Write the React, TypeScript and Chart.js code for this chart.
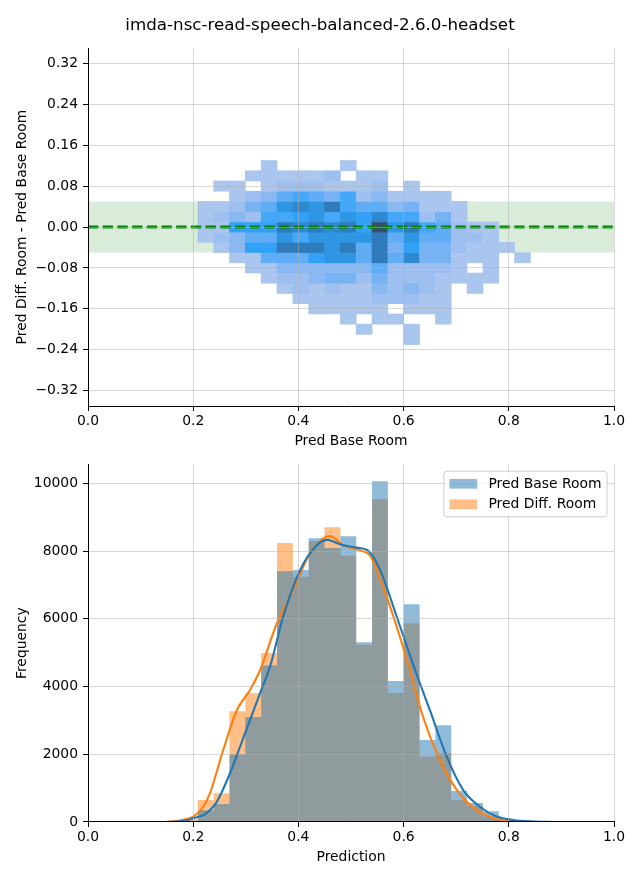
import React, { useEffect, useRef } from 'react';
import { Chart, registerables } from 'chart.js';

Chart.register(...registerables);

// ---------------- data ----------------
const FIG_TITLE = 'imda-nsc-read-speech-balanced-2.6.0-headset';

// shared histogram bin edges (Pred value)
const binEdges = [
  0.1486, 0.1787, 0.2088, 0.2389, 0.269, 0.2991, 0.3292, 0.3594, 0.3895, 0.4196,
  0.4497, 0.4798, 0.5099, 0.54, 0.5701, 0.6002, 0.6304, 0.6605, 0.6906, 0.7207,
  0.7508, 0.7809, 0.811, 0.8411, 0.8712, 0.9014,
];

// bottom panel: counts per bin
const baseCounts = [5, 40, 350, 530, 2000, 3100, 4630, 7400, 7440, 8380, 8090, 8440, 5310, 10060, 4160, 6430, 2420, 2860, 915, 560, 320, 80, 30, 10, 5];
const diffCounts = [10, 90, 650, 850, 3270, 3810, 4990, 8240, 7240, 8300, 8700, 7860, 5230, 9530, 3810, 5870, 1930, 2030, 650, 470, 160, 30, 5, 0, 0];

// KDE curves (in count units)
const kdeBaseX = [0.15, 0.17, 0.19, 0.2, 0.22, 0.232, 0.245, 0.27, 0.289, 0.308, 0.327, 0.346, 0.371, 0.403, 0.435, 0.455, 0.479, 0.511, 0.532, 0.555, 0.587, 0.622, 0.65, 0.682, 0.713, 0.745, 0.777, 0.808, 0.85, 0.885];
const kdeBaseY = [0, 15, 60, 110, 210, 354, 600, 1440, 2220, 3010, 3800, 4580, 6060, 7430, 8170, 8330, 8200, 8100, 8020, 7450, 6060, 4480, 3300, 1930, 950, 450, 160, 60, 15, 0];
const kdeDiffX = [0.15, 0.18, 0.2, 0.218, 0.232, 0.257, 0.283, 0.308, 0.327, 0.359, 0.39, 0.422, 0.46, 0.485, 0.517, 0.536, 0.555, 0.587, 0.612, 0.637, 0.669, 0.701, 0.739, 0.777, 0.796, 0.83];
const kdeDiffY = [5, 60, 160, 420, 850, 2120, 3300, 3900, 4480, 5860, 6840, 7930, 8440, 8170, 8020, 7870, 7200, 5760, 4480, 3100, 1830, 950, 350, 90, 25, 0];

// top panel: 2D histogram, rows = Pred Diff - Pred Base bin centres, columns start at binEdges[heatFirstBin]
const heatFirstBin = 2;
const rowHalfHeight = 0.01;
const heatRows = [0.12, 0.1, 0.08, 0.06, 0.04, 0.02, 0, -0.02, -0.04, -0.06, -0.08, -0.1, -0.12, -0.14, -0.16, -0.18, -0.2, -0.22];
const heatLevels = [
  [0, 0, 0, 0, 1, 0, 0, 0, 0, 1, 0, 0, 0, 0, 0, 0, 0, 0, 0, 0, 0],
  [0, 0, 0, 1, 1, 1, 1, 1, 2, 0, 1, 1, 0, 0, 0, 0, 0, 0, 0, 0, 0],
  [0, 1, 1, 0, 1, 2, 2, 2, 1, 1, 1, 2, 0, 1, 0, 0, 0, 0, 0, 0, 0],
  [0, 0, 1, 2, 3, 5, 6, 5, 4, 6, 2, 3, 1, 1, 1, 1, 0, 0, 0, 0, 0],
  [1, 1, 2, 4, 5, 8, 9, 8, 10, 6, 5, 5, 3, 4, 1, 1, 1, 0, 0, 0, 0],
  [1, 2, 3, 2, 6, 6, 7, 8, 6, 8, 7, 9, 6, 6, 2, 4, 1, 0, 0, 0, 0],
  [1, 1, 7, 7, 7, 10, 9, 10, 9, 10, 7, 11, 8, 10, 6, 5, 2, 1, 1, 0, 0],
  [1, 2, 3, 5, 5, 8, 6, 8, 8, 8, 8, 10, 5, 8, 5, 5, 2, 2, 1, 0, 0],
  [0, 1, 3, 7, 7, 10, 10, 10, 8, 10, 5, 10, 4, 7, 4, 4, 2, 1, 1, 1, 0],
  [0, 0, 1, 1, 5, 5, 5, 7, 8, 8, 5, 10, 5, 9, 4, 4, 1, 1, 1, 0, 1],
  [0, 0, 0, 1, 1, 3, 3, 3, 3, 3, 3, 5, 2, 2, 2, 2, 1, 0, 1, 0, 0],
  [0, 0, 0, 0, 1, 2, 2, 3, 4, 4, 2, 4, 2, 2, 2, 1, 1, 1, 1, 0, 0],
  [0, 0, 0, 0, 0, 1, 2, 1, 2, 1, 1, 3, 2, 3, 2, 1, 0, 1, 0, 0, 0],
  [0, 0, 0, 0, 0, 0, 1, 1, 1, 1, 1, 2, 2, 2, 1, 1, 0, 0, 0, 0, 0],
  [0, 0, 0, 0, 0, 0, 0, 1, 1, 1, 1, 1, 0, 1, 1, 1, 0, 0, 0, 0, 0],
  [0, 0, 0, 0, 0, 0, 0, 0, 0, 1, 0, 1, 1, 0, 0, 1, 0, 0, 0, 0, 0],
  [0, 0, 0, 0, 0, 0, 0, 0, 0, 0, 1, 0, 0, 1, 0, 0, 0, 0, 0, 0, 0],
  [0, 0, 0, 0, 0, 0, 0, 0, 0, 0, 0, 0, 0, 1, 0, 0, 0, 0, 0, 0, 0],
];

const bandLow = -0.05;
const bandHigh = 0.05;

const topYTicks = [-0.32, -0.24, -0.16, -0.08, 0, 0.08, 0.16, 0.24, 0.32];
const xTicks = [0, 0.2, 0.4, 0.6, 0.8, 1.0];
const botYTicks = [0, 2000, 4000, 6000, 8000, 10000];

// ---------------- styles ----------------
const heatPalette = ['#aac6ee', '#9dc0f0', '#8ab8f1', '#77b2f3', '#60acf5', '#45a7f8', '#33a2f6', '#2e96e2', '#2e89d0', '#2f7bbb', '#3c4e6e'];
const FONT_FAMILY = '"DejaVu Sans", sans-serif';
const FS = 13.9;
const gridOpts = { color: 'rgba(176,176,176,0.5)', z: 1, tickLength: 5, tickColor: '#000', tickWidth: 1, lineWidth: 1, offset: false };
const borderOpts = { display: true, color: '#000', width: 1, z: 2 };

const figTitlePlugin = {
  id: 'figTitle',
  afterDraw(chart: any) {
    const ctx = chart.ctx;
    ctx.save();
    ctx.font = `16.7px ${FONT_FAMILY}`;
    ctx.fillStyle = '#000';
    ctx.textAlign = 'center';
    ctx.textBaseline = 'middle';
    ctx.fillText(FIG_TITLE, chart.width / 2, 26);
    ctx.restore();
  },
};

const boxLegendPlugin = {
  id: 'boxLegend',
  afterDraw(chart: any) {
    const items = chart.data.datasets
      .filter((d: any) => d.fill === 'origin')
      .map((d: any) => ({ label: d.label, color: d.backgroundColor }));
    const ctx = chart.ctx;
    const area = chart.chartArea;
    ctx.save();
    ctx.font = `${FS}px ${FONT_FAMILY}`;
    const pad = 0.4 * FS;
    const handleW = 2 * FS;
    const handleH = 0.7 * FS;
    const gap = 0.8 * FS;
    const rowH = 20.5;
    const textW = Math.max(...items.map((i: any) => ctx.measureText(i.label).width));
    const w = pad + handleW + gap + textW + pad;
    const h = 2 * pad + (items.length - 1) * rowH + FS;
    const right = area.right - 0.5 * FS;
    const top = area.top + 0.5 * FS;
    const left = right - w;
    ctx.beginPath();
    ctx.roundRect(left, top, w, h, 3);
    ctx.fillStyle = 'rgba(255,255,255,0.8)';
    ctx.fill();
    ctx.strokeStyle = '#cccccc';
    ctx.lineWidth = 1;
    ctx.stroke();
    items.forEach((it: any, i: number) => {
      const cy = top + pad + FS / 2 + i * rowH;
      ctx.fillStyle = it.color;
      ctx.fillRect(left + pad, cy - handleH / 2, handleW, handleH);
      ctx.fillStyle = '#000';
      ctx.textAlign = 'left';
      ctx.textBaseline = 'middle';
      ctx.fillText(it.label, left + pad + handleW + gap, cy + 0.5);
    });
    ctx.restore();
  },
};

const fmtMinus = (s: string) => s.replace('-', '\u2212');

function topConfig(): any {
  const heatDatasets = heatRows.map((yc, r) => {
    const pts: any[] = [];
    const cols: string[] = [];
    heatLevels[r].forEach((lv, c) => {
      if (lv > 0) {
        const x0 = binEdges[c + heatFirstBin];
        const x1 = binEdges[c + heatFirstBin + 1];
        pts.push({ x: (x0 + x1) / 2, y: [yc - rowHalfHeight, yc + rowHalfHeight] });
        cols.push(heatPalette[lv - 1]);
      }
    });
    return {
      type: 'bar',
      label: `row ${yc}`,
      data: pts,
      backgroundColor: cols,
      borderWidth: 0,
      grouped: false,
      barPercentage: 1,
      categoryPercentage: 1,
      order: 10,
    };
  });
  return {
    type: 'bar',
    data: {
      datasets: [
        {
          type: 'line',
          label: 'band',
          data: [{ x: 0, y: bandHigh }, { x: 1, y: bandHigh }],
          borderWidth: 0,
          pointRadius: 0,
          fill: { value: bandLow },
          backgroundColor: 'rgba(0,128,0,0.15)',
          order: 100,
        },
        ...heatDatasets,
        {
          type: 'line',
          label: 'zero',
          data: [{ x: 0, y: 0 }, { x: 1, y: 0 }],
          borderColor: '#008000',
          borderWidth: 2.8,
          borderDash: [10.3, 4.4],
          pointRadius: 0,
          fill: false,
          order: 0,
        },
      ],
    },
    options: {
      responsive: false,
      animation: false,
      devicePixelRatio: 1,
      layout: { padding: { top: 48, right: 26, left: 0, bottom: 0 } },
      plugins: { legend: { display: false }, tooltip: { enabled: false }, title: { display: false } },
      scales: {
        x: {
          type: 'linear',
          min: 0,
          max: 1,
          offset: false,
          afterBuildTicks: (s: any) => { s.ticks = xTicks.map((value) => ({ value })); },
          afterFit: (s: any) => { s.height = 49; },
          ticks: { color: '#000', font: { family: FONT_FAMILY, size: FS }, padding: 2, callback: (v: any) => Number(v).toFixed(1) },
          grid: gridOpts,
          border: borderOpts,
          title: { display: true, text: 'Pred Base Room', color: '#000', font: { family: FONT_FAMILY, size: FS }, padding: { top: 0, bottom: 5.7 } },
        },
        y: {
          type: 'linear',
          min: -0.35,
          max: 0.35,
          afterBuildTicks: (s: any) => { s.ticks = topYTicks.map((value) => ({ value })); },
          afterFit: (s: any) => { s.width = 88; },
          ticks: { color: '#000', font: { family: FONT_FAMILY, size: FS }, padding: 5, callback: (v: any) => fmtMinus(Number(v).toFixed(2)) },
          grid: gridOpts,
          border: borderOpts,
          title: { display: true, text: 'Pred Diff. Room - Pred Base Room', color: '#000', font: { family: FONT_FAMILY, size: FS }, padding: { top: 13.7, bottom: 0 } },
        },
      },
    },
    plugins: [figTitlePlugin],
  };
}

// histogram outline as a stepped polygon: one point per left edge, closed at the last right edge
function histPoints(counts: number[]) {
  const pts = counts.map((y, i) => ({ x: binEdges[i], y }));
  pts.push({ x: binEdges[counts.length], y: 0 });
  return pts;
}

function botConfig(): any {
  return {
    type: 'line',
    data: {
      datasets: [
        {
          label: 'Pred Base Room KDE',
          data: kdeBaseX.map((x, i) => ({ x, y: kdeBaseY[i] })),
          borderColor: '#1f77b4',
          borderWidth: 2.1,
          pointRadius: 0,
          cubicInterpolationMode: 'monotone',
          fill: false,
          order: 1,
        },
        {
          label: 'Pred Diff. Room KDE',
          data: kdeDiffX.map((x, i) => ({ x, y: kdeDiffY[i] })),
          borderColor: '#ff7f0e',
          borderWidth: 2.1,
          pointRadius: 0,
          cubicInterpolationMode: 'monotone',
          fill: false,
          order: 2,
        },
        {
          label: 'Pred Base Room',
          data: histPoints(baseCounts),
          stepped: 'before',
          backgroundColor: 'rgba(31,119,180,0.5)',
          borderColor: 'rgba(0,0,0,0)',
          borderWidth: 0,
          pointRadius: 0,
          fill: 'origin',
          order: 3,
        },
        {
          label: 'Pred Diff. Room',
          data: histPoints(diffCounts),
          stepped: 'before',
          backgroundColor: 'rgba(255,127,14,0.5)',
          borderColor: 'rgba(0,0,0,0)',
          borderWidth: 0,
          pointRadius: 0,
          fill: 'origin',
          order: 4,
        },
      ],
    },
    options: {
      responsive: false,
      animation: false,
      devicePixelRatio: 1,
      layout: { padding: { top: 13, right: 26, left: 0, bottom: 0 } },
      plugins: { legend: { display: false }, tooltip: { enabled: false }, title: { display: false } },
      scales: {
        x: {
          type: 'linear',
          min: 0,
          max: 1,
          offset: false,
          afterBuildTicks: (s: any) => { s.ticks = xTicks.map((value) => ({ value })); },
          afterFit: (s: any) => { s.height = 58; },
          ticks: { color: '#000', font: { family: FONT_FAMILY, size: FS }, padding: 2, callback: (v: any) => Number(v).toFixed(1) },
          grid: gridOpts,
          border: borderOpts,
          title: { display: true, text: 'Prediction', color: '#000', font: { family: FONT_FAMILY, size: FS }, padding: { top: 0, bottom: 14.7 } },
        },
        y: {
          type: 'linear',
          min: 0,
          max: 10560,
          afterBuildTicks: (s: any) => { s.ticks = botYTicks.map((value) => ({ value })); },
          afterFit: (s: any) => { s.width = 88; },
          ticks: { color: '#000', font: { family: FONT_FAMILY, size: FS }, padding: 5, callback: (v: any) => String(Math.round(Number(v))) },
          grid: gridOpts,
          border: borderOpts,
          title: { display: true, text: 'Frequency', color: '#000', font: { family: FONT_FAMILY, size: FS }, padding: { top: 13.7, bottom: 0 } },
        },
      },
    },
    plugins: [boxLegendPlugin],
  };
}

export default function App() {
  const topRef = useRef<HTMLCanvasElement>(null);
  const botRef = useRef<HTMLCanvasElement>(null);
  useEffect(() => {
    const top = new Chart(topRef.current as HTMLCanvasElement, topConfig());
    const bot = new Chart(botRef.current as HTMLCanvasElement, botConfig());
    return () => {
      top.destroy();
      bot.destroy();
    };
  }, []);
  return (
    <div style={{ position: 'absolute', left: 0, top: 0, width: 640, height: 880, background: '#fff' }}>
      <canvas ref={topRef} width={640} height={455} style={{ position: 'absolute', left: 0, top: 0, width: 640, height: 455 }} />
      <canvas ref={botRef} width={640} height={429} style={{ position: 'absolute', left: 0, top: 451, width: 640, height: 429 }} />
    </div>
  );
}
